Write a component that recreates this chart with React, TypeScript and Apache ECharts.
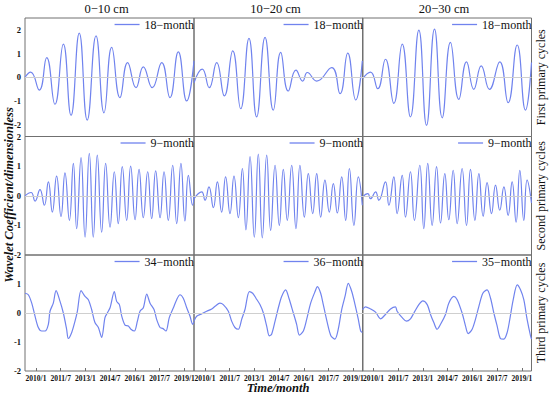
import React, { useEffect, useRef } from "react";
import * as echarts from "echarts";

// x = months since 2009/5 (2010/1 = 8)
const xTickValues = [8, 26, 44, 62, 80, 98, 116];
const xTickLabels = ["2010/1", "2011/7", "2013/1", "2014/7", "2016/1", "2017/7", "2019/1"];

const colTitles = ["0\u221210 cm", "10\u221220 cm", "20\u221230 cm"];
const rowTitles = ["First primary cycles", "Second primary cycles", "Third primary cycles"];
const seriesNames = [
  ["18\u2212month", "18\u2212month", "18\u2212month"],
  ["9\u2212month", "9\u2212month", "9\u2212month"],
  ["34\u2212month", "36\u2212month", "35\u2212month"],
];

const r1c1: [number, number][] = [
  [0, 0], [4.1, 0.22], [10.4, -0.54], [15.8, 0.83], [21.8, -1.14], [27.9, 1.4], [33.5, -1.61],
  [39.5, 1.86], [45.3, -1.81], [51.7, 1.75], [57.5, -1.5], [63.1, 1.26], [69.1, -0.86],
  [74.7, 0.62], [80.8, -0.44], [86.1, 0.44], [92.6, -0.44], [99.5, 0.62], [105.5, -0.86],
  [111.6, 1.07], [117.7, -1.0], [123, 0.69],
];
const r1c2: [number, number][] = [
  [0, -0.23], [6.0, 0.34], [11.1, -0.44], [16.5, 0.62], [22.1, -0.79], [28.2, 1.11], [34.0, -1.33],
  [40.0, 1.64], [45.6, -1.67], [51.7, 1.68], [57.7, -1.39], [63.1, 1.05], [68.6, -0.58],
  [74.2, 0.3], [79.1, -0.16], [82.5, 0.2], [89.3, -0.16], [100.2, 0.41], [106.3, -0.69],
  [111.9, 1.02], [117.7, -0.96], [122.5, 0.69],
];
const r1c3: [number, number][] = [
  [0, -0.06], [5.8, 0.22], [11.1, -0.48], [16.7, 0.76], [22.8, -1.1], [28.9, 1.4], [34.9, -1.67],
  [41.0, 1.99], [46.6, -2.03], [52.4, 2.03], [58.0, -1.71], [64.0, 1.47], [70.1, -0.93],
  [75.7, 0.65], [81.0, -0.51], [86.4, 0.48], [92.4, -0.51], [99.9, 0.65], [106.0, -1.07],
  [112.6, 1.36], [118.6, -1.39], [123, 0.62],
];
const r2c1: [number, number][] = [
  [0, 0], [4.4, 0.11], [7.3, -0.18], [10.9, 0.21], [14.1, -0.32], [17.0, 0.47], [19.9, -0.55],
  [23.0, 0.66], [26.2, -0.7], [29.1, 0.77], [32.3, -0.83], [35.2, 1.09], [37.6, -1.11],
  [40.8, 1.29], [43.7, -1.4], [46.8, 1.43], [49.7, -1.4], [52.6, 1.37], [55.8, -1.23],
  [58.7, 1.09], [61.9, -1.06], [65.0, 0.81], [67.9, -0.94], [70.8, 0.98], [74.0, -0.83],
  [76.9, 1.0], [80.1, -0.81], [83.0, 0.89], [86.1, -0.74], [89.3, 0.81], [92.2, -0.77],
  [95.1, 0.84], [98.3, -0.74], [101.2, 0.81], [104.3, -0.83], [107.5, 1.03], [110.4, -0.94],
  [113.5, 1.09], [116.4, -0.85], [118.9, 0.69], [122.0, -0.32], [123, -0.04],
];
const r2c2: [number, number][] = [
  [0, -0.1], [5.6, 0.13], [8.0, -0.15], [10.9, 0.3], [14.1, -0.4], [17.0, 0.47], [20.1, -0.55],
  [23.0, 0.64], [26.2, -0.6], [29.1, 0.66], [32.3, -0.74], [35.2, 0.92], [37.8, -1.15],
  [40.8, 1.32], [43.9, -1.4], [46.8, 1.41], [49.7, -1.42], [52.9, 1.37], [55.8, -1.17],
  [59.0, 1.03], [62.1, -1.0], [65.0, 0.89], [67.9, -0.83], [71.1, 1.03], [74.2, -1.11],
  [77.1, 1.03], [80.3, -0.72], [83.2, 0.75], [86.4, -0.6], [89.3, 0.75], [92.2, -0.72],
  [95.3, 0.53], [98.5, -0.55], [101.4, 0.41], [104.3, -0.58], [107.5, 0.64], [110.4, -0.83],
  [113.1, 0.92], [116.4, -1.0], [119.6, 0.64], [122.5, -0.32],
];
const r2c3: [number, number][] = [
  [0, -0.04], [3.9, 0.07], [5.8, -0.1], [9.5, 0.13], [11.9, -0.15], [16.7, 0.47], [19.2, -0.32],
  [22.8, 0.64], [25.2, -0.6], [28.9, 0.69], [31.3, -0.72], [34.9, 0.81], [37.8, -0.83],
  [41.7, 1.03], [44.6, -1.11], [47.5, 1.09], [50.7, -1.0], [53.9, 0.98], [56.8, -0.92],
  [59.9, 0.75], [62.8, -0.81], [66.0, 0.86], [68.9, -0.94], [72.5, 0.92], [75.7, -1.0],
  [78.6, 0.89], [81.8, -0.83], [84.7, 0.75], [87.8, -0.69], [90.7, 0.44], [93.9, -0.6],
  [96.8, 0.36], [99.9, -0.49], [102.9, 0.3], [106.0, -0.66], [108.9, 0.47], [111.8, -0.89],
  [114.5, 0.86], [117.4, -0.83], [119.8, 0.53], [123, -0.24],
];
const r3c1: [number, number][] = [
  [0, 0.68], [2.4, 0.63], [4.9, 0.34], [7.3, -0.11], [9.7, -0.5], [12.1, -0.62], [14.6, -0.62],
  [17.0, -0.39], [18.2, 0.06], [20.6, 0.34], [22.6, 0.77], [25.5, 0.4], [27.9, 0.0],
  [30.3, -0.56], [31.5, -0.88], [34.0, -0.67], [36.4, -0.28], [38.1, 0.06], [40.8, 0.77],
  [43.7, 0.57], [46.1, 0.46], [48.5, 0.12], [50.9, -0.33], [53.4, -0.5], [55.8, -0.84],
  [58.2, -0.16], [59.9, 0.0], [61.9, 0.18], [65.0, 0.74], [66.7, 0.4], [68.7, 0.29],
  [70.4, -0.11], [72.8, -0.42], [75.2, -0.45], [77.1, -0.56], [79.6, -0.62], [81.8, -0.28],
  [83.7, 0.06], [86.1, 0.18], [88.6, 0.65], [91.0, 0.34], [93.9, 0.12], [95.8, -0.22],
  [98.3, -0.5], [100.2, -0.53], [102.6, -0.62], [105.0, -0.16], [108.0, 0.18], [110.4, 0.46],
  [112.8, 0.63], [115.2, 0.51], [117.7, 0.18], [120.1, -0.11], [122.0, -0.39], [123, -0.3],
];
const r3c2: [number, number][] = [
  [0, -0.28], [1.9, -0.11], [5.6, -0.03], [9.2, 0.06], [12.9, 0.14], [15.3, 0.23], [18.9, 0.34],
  [21.3, 0.29], [25.0, 0.06], [27.4, -0.28], [29.8, -0.5], [32.3, -0.56], [34.7, -0.22],
  [37.1, 0.12], [40.3, 0.74], [42.7, 0.68], [45.1, 0.51], [48.0, 0.29], [50.5, 0.0],
  [52.9, -0.45], [54.8, -0.79], [56.5, -0.73], [59.0, -0.28], [61.4, 0.18], [63.8, 0.57],
  [66.7, 0.8], [69.1, 0.51], [72.3, 0.0], [74.7, -0.39], [76.7, -0.76], [79.6, -0.62],
  [82.0, -0.22], [84.9, 0.34], [88.1, 0.74], [89.8, 0.91], [92.2, 0.68], [94.1, 0.29],
  [97.0, -0.33], [99.7, -0.79], [102.6, -0.9], [105.0, -0.56], [107.5, 0.12], [109.9, 0.57],
  [112.3, 1.02], [114.8, 0.74], [117.2, 0.29], [119.6, -0.22], [121.3, -0.62], [122.5, -0.67],
];
const r3c3: [number, number][] = [
  [0, 0.12], [2.2, 0.21], [5.8, 0.14], [9.5, 0.03], [13.1, -0.2], [16.7, -0.05], [20.4, 0.14],
  [24.0, 0.21], [25.2, 0.06], [28.9, -0.16], [32.0, -0.28], [34.9, -0.2], [37.4, 0.0],
  [41.0, 0.29], [43.9, 0.42], [47.1, 0.29], [49.5, -0.05], [51.9, -0.33], [54.3, -0.56],
  [56.8, -0.39], [60.4, -0.05], [62.8, 0.34], [66.5, 0.57], [68.9, 0.46], [72.5, 0.0],
  [75.0, -0.45], [76.9, -0.71], [79.8, -0.56], [82.2, -0.22], [84.7, 0.23], [87.6, 0.68],
  [90.7, 0.8], [93.2, 0.51], [95.6, 0.0], [98.0, -0.45], [100.4, -0.88], [102.9, -0.9],
  [105.3, -0.67], [107.2, -0.22], [109.7, 0.46], [112.6, 0.97], [115.0, 0.8], [117.4, 0.46],
  [119.8, -0.22], [122.3, -0.79], [123, -0.9],
];

const panelData = [
  [r1c1, r1c2, r1c3],
  [r2c1, r2c2, r2c3],
  [r3c1, r3c2, r3c3],
];

const SERIF = "'Times New Roman', 'Liberation Serif', serif";
const LINE = "#7083ee";
const BORDER = "#707070";

export default function App() {
  const ref = useRef<HTMLDivElement>(null);
  useEffect(() => {
    if (!ref.current) return;
    const chart = echarts.init(ref.current, null, { renderer: "svg" });
    const lefts = [25, 194, 362.5];
    const W = 169;
    const tops = [18, 136.5, 255];
    const heights = [118.5, 118.5, 116];
    const grids: any[] = [];
    const xAxes: any[] = [];
    const yAxes: any[] = [];
    const series: any[] = [];
    const legends: any[] = [];
    for (let r = 0; r < 3; r++) {
      for (let c = 0; c < 3; c++) {
        const i = r * 3 + c;
        grids.push({
          left: lefts[c], top: tops[r], width: W, height: heights[r],
          show: true, borderColor: BORDER, borderWidth: 1, backgroundColor: "transparent",
        });
        xAxes.push({
          type: "value", gridIndex: i, min: 0, max: 123,
          axisLine: { show: false, onZero: false },
          splitLine: { show: false },
          axisTick: r === 2 ? { show: true, inside: true, length: 3, customValues: xTickValues, lineStyle: { color: BORDER } } : { show: false },
          axisLabel: r === 2 ? {
            show: true, customValues: xTickValues, margin: 3,
            fontFamily: SERIF, fontWeight: "bold", fontSize: 7.5, color: "#111",
            formatter: (v: number) => { const k = xTickValues.indexOf(Math.round(v)); return k >= 0 ? xTickLabels[k] : ""; },
          } : { show: false },
        });
        const row1 = r === 0;
        yAxes.push({
          type: "value", gridIndex: i,
          min: row1 ? -2.5 : -2, max: row1 ? 2.5 : 2, interval: row1 ? 0.5 : 1,
          axisLine: { show: false, onZero: false }, axisTick: { show: false }, splitLine: { show: false },
          axisLabel: c === 0 ? {
            show: true, margin: 4, fontFamily: SERIF, fontWeight: "bold", fontSize: 8.5, color: "#111",
            showMaxLabel: r !== 2,
            formatter: (v: number) => (Math.abs(v - Math.round(v)) < 1e-6 ? String(Math.round(v)) : ""),
          } : { show: false },
        });
        series.push({
          type: "line", name: seriesNames[r][c], xAxisIndex: i, yAxisIndex: i,
          data: panelData[r][c], symbol: "none", smooth: r === 2 ? 0.3 : 0.5,
          lineStyle: { color: LINE, width: 1.2 }, itemStyle: { color: LINE },
          markLine: {
            silent: true, symbol: "none", label: { show: false },
            lineStyle: { color: "#cfcfcf", width: 1, type: "solid" },
            data: [{ yAxis: 0 }],
          },
        });
        legends.push({
          data: [seriesNames[r][c]], right: 550 - (lefts[c] + W), top: tops[r] + 0.5,
          padding: 0, itemWidth: 25, itemHeight: 1.3, icon: "rect", selectedMode: false,
          itemStyle: { color: LINE },
          textStyle: { fontFamily: SERIF, fontSize: 12, color: "#111" },
        });
      }
    }
    const graphics: any[] = [];
    colTitles.forEach((t, c) => {
      graphics.push({ type: "text", x: lefts[c] + W / 2 - 3, y: 9, style: { text: t, font: `12.5px ${SERIF}`, fill: "#111", align: "center", verticalAlign: "middle" } });
    });
    rowTitles.forEach((t, r) => {
      graphics.push({ type: "text", x: 541, y: tops[r] + heights[r] / 2, rotation: Math.PI / 2, style: { text: t, font: `12px ${SERIF}`, fill: "#111", align: "center", verticalAlign: "middle" } });
    });
    graphics.push({ type: "text", x: 9, y: 195, rotation: Math.PI / 2, style: { text: "Wavelet Coefficient/dimensionless", font: `italic bold 12.5px ${SERIF}`, fill: "#111", align: "center", verticalAlign: "middle" } });
    graphics.push({ type: "text", x: 278, y: 388, style: { text: "Time/month", font: `italic bold 12.5px ${SERIF}`, fill: "#111", align: "center", verticalAlign: "middle" } });

    chart.setOption({
      animation: false,
      backgroundColor: "#fff",
      grid: grids, xAxis: xAxes, yAxis: yAxes, series, legend: legends, graphic: graphics,
    });
    return () => chart.dispose();
  }, []);
  return <div ref={ref} style={{ position: "fixed", left: 0, top: 0, width: 550, height: 397 }} />;
}
